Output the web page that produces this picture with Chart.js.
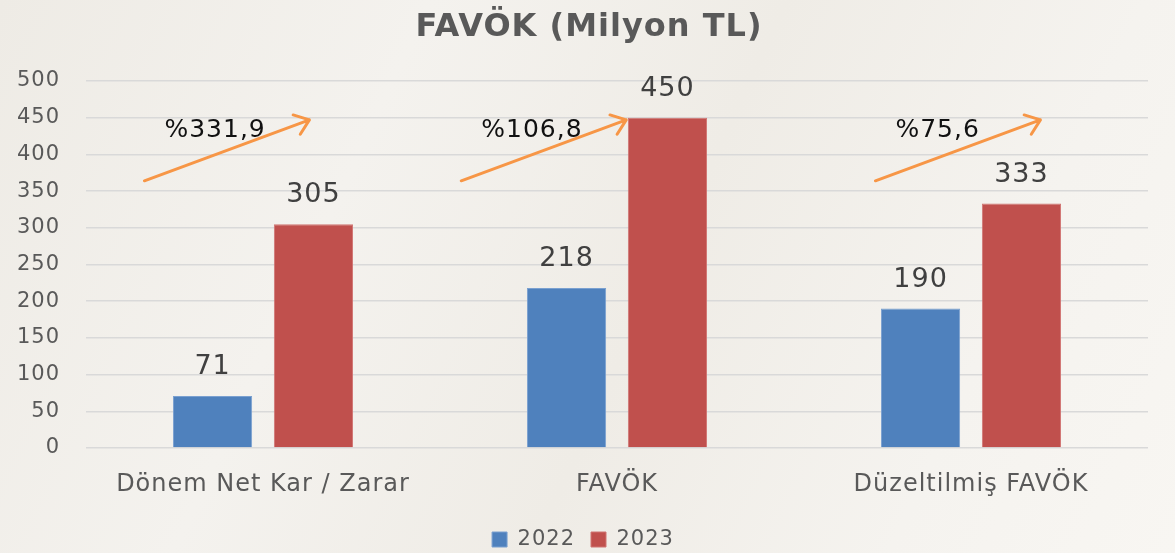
<!DOCTYPE html>
<html>
<head>
<meta charset="utf-8">
<script src="https://cdn.jsdelivr.net/npm/chart.js@4.4.0/dist/chart.umd.min.js"></script>
<style>
  html, body { margin: 0; padding: 0; }
  body {
    width: 1175px; height: 553px; overflow: hidden;
    background: linear-gradient(115deg, #eeebe5 0%, #f4f2ee 30%, #efece6 55%, #f5f3ef 80%, #f8f6f2 100%);
  }
  #wrap { width: 1175px; height: 553px; }
</style>
</head>
<body>
<div id="wrap"><canvas id="favokChart"></canvas></div>
<script>
const categories = ["Dönem Net Kar / Zarar", "FAVÖK", "Düzeltilmiş FAVÖK"];
const values2022 = [71, 218, 190];
const values2023 = [305, 450, 333];
const growthLabels = ["%331,9", "%106,8", "%75,6"];
const yTicks = [0, 50, 100, 150, 200, 250, 300, 350, 400, 450, 500];
const chartTitle = "FAVÖK (Milyon TL)";

const FONT = "'DejaVu Sans', sans-serif";

// slightly wider letters for every text on the canvas
const spacing = {
  id: "spacing",
  beforeDraw(chart) { chart.ctx.letterSpacing = "1px"; }
};

// title sits a bit right of the canvas centre, over the plot
const titleText = {
  id: "titleText",
  afterDraw(chart) {
    const ctx = chart.ctx;
    ctx.save();
    ctx.font = "bold 32px " + FONT;
    ctx.fillStyle = "#595959";
    ctx.textAlign = "center";
    ctx.textBaseline = "middle";
    ctx.fillText(chartTitle, 589, 28);
    ctx.restore();
  }
};

// value labels above each bar
const valueLabels = {
  id: "valueLabels",
  afterDatasetsDraw(chart) {
    const ctx = chart.ctx;
    ctx.save();
    ctx.font = "27px " + FONT;
    ctx.fillStyle = "#404040";
    ctx.textAlign = "center";
    ctx.textBaseline = "middle";
    chart.data.datasets.forEach((ds, i) => {
      chart.getDatasetMeta(i).data.forEach((bar, j) => {
        ctx.fillText(ds.data[j], bar.x, bar.y - 29);
      });
    });
    ctx.restore();
  }
};

// orange growth arrows with percentage text
const growthArrows = {
  id: "growthArrows",
  afterDatasetsDraw(chart) {
    const ctx = chart.ctx;
    const x = chart.scales.x, y = chart.scales.y;
    const step = x.getPixelForValue(1) - x.getPixelForValue(0);
    const starts = [-0.335, -0.44, -0.27];
    ctx.save();
    growthLabels.forEach((label, i) => {
      const cx = x.getPixelForValue(i);
      const x0 = cx + starts[i] * step, y0 = y.getPixelForValue(364);
      const x1 = x0 + 165, y1 = y.getPixelForValue(447);
      ctx.strokeStyle = "#f79646";
      ctx.lineWidth = 3;
      ctx.lineCap = "round";
      ctx.lineJoin = "round";
      ctx.beginPath();
      ctx.moveTo(x0, y0);
      ctx.lineTo(x1, y1);
      const ang = Math.atan2(y1 - y0, x1 - x0);
      const head = 17;
      ctx.moveTo(x1 - head * Math.cos(ang - 0.65), y1 - head * Math.sin(ang - 0.65));
      ctx.lineTo(x1, y1);
      ctx.lineTo(x1 - head * Math.cos(ang + 0.65), y1 - head * Math.sin(ang + 0.65));
      ctx.stroke();
      ctx.font = "25px " + FONT;
      ctx.fillStyle = "#111111";
      ctx.textAlign = "left";
      ctx.textBaseline = "middle";
      ctx.fillText(label, x0 + 20, y.getPixelForValue(433));
    });
    ctx.restore();
  }
};

new Chart(document.getElementById("favokChart"), {
  type: "bar",
  data: {
    labels: categories,
    datasets: [
      { label: "2022", data: values2022, backgroundColor: "#4f81bd", borderColor: "#7aa0d0", borderWidth: 1 },
      { label: "2023", data: values2023, backgroundColor: "#c0504d", borderColor: "#d07572", borderWidth: 1 }
    ]
  },
  options: {
    responsive: true,
    maintainAspectRatio: false,
    animation: false,
    datasets: { bar: { categoryPercentage: 0.57, barPercentage: 0.785 } },
    layout: { padding: { left: 10, right: 27, top: 81, bottom: -7 } },
    scales: {
      x: {
        grid: { display: false },
        border: { display: false },
        afterFit(axis) { axis.height = 65; },
        ticks: { color: "#595959", font: { family: FONT, size: 24 }, padding: 14 }
      },
      y: {
        min: 0, max: 500,
        afterBuildTicks(axis) { axis.ticks = yTicks.map(v => ({ value: v })); },
        afterFit(axis) { axis.width = 76; },
        grid: { color: "#d9d9d9", lineWidth: 1.5, drawTicks: false },
        border: { display: false },
        ticks: { color: "#595959", font: { family: FONT, size: 21 }, padding: 26 }
      }
    },
    plugins: {
      title: { display: false },
      legend: {
        position: "bottom",
        labels: { color: "#595959", font: { family: FONT, size: 21 }, boxWidth: 15, boxHeight: 15, padding: 16 }
      },
      tooltip: { enabled: false }
    }
  },
  plugins: [spacing, titleText, valueLabels, growthArrows]
});
</script>
</body>
</html>
